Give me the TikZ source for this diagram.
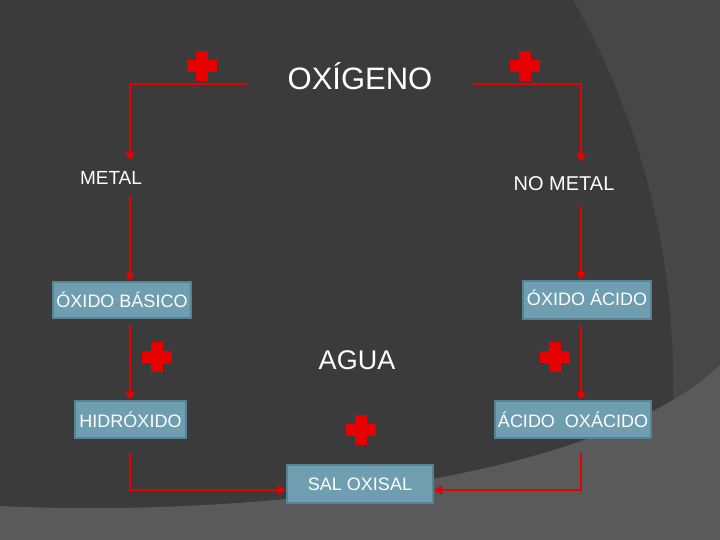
\documentclass[tikz,border=0pt]{standalone}
\usepackage{fontspec}
\setmainfont{Liberation Sans}
\usetikzlibrary{arrows.meta,positioning,calc}

\definecolor{bgdark}{RGB}{59,59,59}
\definecolor{bgmid}{RGB}{71,71,71}
\definecolor{bglight}{RGB}{90,90,90}
\definecolor{boxfill}{RGB}{110,158,176}
\definecolor{boxline}{RGB}{86,132,150}
\definecolor{linered}{RGB}{230,0,0}

\begin{document}
\begin{tikzpicture}[x=1pt, y=-1pt,
    flow/.style={draw=linered, line width=2.5pt, -{Triangle[length=8pt,width=9pt]}},
    box/.style={draw=boxline, line width=2pt, fill=boxfill, text=white,
      font=\fontsize{18}{20}\selectfont, inner sep=0pt},
    word/.style={text=white, inner xsep=0pt},
    redplus/.pic={
      \fill[linered] (-15,-6) rectangle (15,6);
      \fill[linered] (-6,-15) rectangle (6,15);
    }]
    \useasboundingbox (0,0) rectangle (720,540);
    \clip (0,0) rectangle (720,540);

    % background
    \fill[bgmid] (0,0) rectangle (720,540);
    \fill[bgdark] (-99,380) circle[radius=772];
    \fill[bglight] (0,506) .. controls (250,518) and (600,480) .. (720,365)
      -- (720,540) -- (0,540) -- cycle;

    \coordinate (lx) at (130,0);
    \coordinate (rx) at (581,0);

    \node[word, inner ysep=0pt, text height=22pt, text depth=0pt, minimum width=226pt,
      font=\fontsize{31}{34}\selectfont] (oxigeno) at (360,79) {OXÍGENO};
    \node[word, inner ysep=11pt, font=\fontsize{19}{22}\selectfont] (metal) at (111,178) {METAL};
    \node[word, inner ysep=15pt, font=\fontsize{20}{23}\selectfont] (nometal) at (564,184) {NO METAL};

    \node[box, minimum width=138pt, minimum height=36pt] (obasico) at (122,300) {ÓXIDO BÁSICO};
    \node[box, minimum width=128pt, minimum height=38pt] (oacido) at (587,300) {\raisebox{4pt}{ÓXIDO ÁCIDO}};
    \node[box, minimum width=111pt, minimum height=37pt] (hidroxido) at (130.5,419.5) {HIDRÓXIDO};
    \node[box, minimum width=156pt, minimum height=37pt] (acidoox) at (573,419.5) {ÁCIDO\ \ OXÁCIDO};
    \node[box, minimum width=146pt, minimum height=38pt] (sal) at (360,484) {SAL OXISAL};

    \node[word, font=\fontsize{27}{30}\selectfont] (agua) at (357,360) {AGUA};

    \pic at (202,66) {redplus};
    \pic at (525,66) {redplus};
    \pic at (157,357) {redplus};
    \pic at (555,357) {redplus};
    \pic at (361,430) {redplus};

    \draw[flow] ([yshift=-5pt]oxigeno.west) -| (metal.north -| lx);
    \draw[flow] ([yshift=-5pt]oxigeno.east) -| (nometal.north -| rx);
    \draw[flow] (metal.south -| lx) -- (obasico.north -| lx);
    \draw[flow] (nometal.south -| rx) -- (oacido.north -| rx);
    \draw[flow, shorten <=6pt] (obasico.south -| lx) -- (hidroxido.north -| lx);
    \draw[flow, shorten <=5pt] (oacido.south -| rx) -- (acidoox.north -| rx);
    \draw[flow, shorten <=14pt] (hidroxido.south -| lx) |- ([yshift=-6pt]sal.west);
    \draw[flow, shorten <=14pt] (acidoox.south -| rx) |- ([yshift=-6pt]sal.east);
  \end{tikzpicture}
\end{document}
